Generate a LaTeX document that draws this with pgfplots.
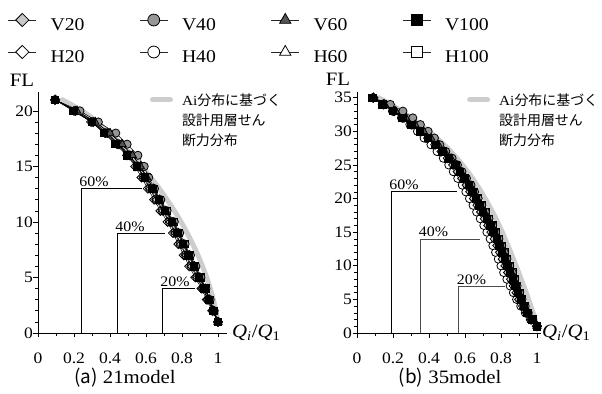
\documentclass[border=0pt]{standalone}
\usepackage{fontspec}
\setmainfont{Liberation Serif}[FakeStretch=1.1]
\newfontfamily\jp{Noto Sans CJK JP}
\usepackage{pgfplots}
\usepackage{pgfplotstable}
\pgfplotsset{compat=1.18}

\definecolor{g20}{RGB}{200,200,200}
\definecolor{g40}{RGB}{150,150,150}
\definecolor{g60}{RGB}{85,85,85}
\definecolor{aiGray}{RGB}{205,205,205}

\tikzset{
 ser/.style={black, line width=0.5pt, mark size=#1},
 sV20/.style={ser=3.2bp, mark=square*, mark options={rotate=45, fill=g20, draw=black, line width=0.8pt, solid}},
 sV40/.style={ser=4.1bp, mark=*, mark options={fill=g40, draw=black, line width=0.8pt, solid}},
 sV60/.style={ser=4.5bp, mark=triangle*, mark options={fill=g60, draw=black, line width=0.8pt, solid}},
 sV100/.style={ser=3.7bp, mark=square*, mark options={fill=black, draw=black, line width=0.8pt, solid}},
 sH20/.style={ser=3.2bp, mark=square*, mark options={rotate=45, fill=white, draw=black, line width=0.8pt, solid}},
 sH40/.style={ser=4.1bp, mark=*, mark options={fill=white, draw=black, line width=0.8pt, solid}},
 sH60/.style={ser=4.5bp, mark=triangle*, mark options={fill=white, draw=black, line width=0.8pt, solid}},
 sH100/.style={ser=3.7bp, mark=square*, mark options={fill=white, draw=black, line width=0.8pt, solid}},
 ailine/.style={color=aiGray, line width=5bp, line cap=round, mark=none},
 pct/.style={anchor=south west, inner sep=0pt, xshift=-2bp, yshift=1.5bp, font=\fontsize{14.5}{17}\selectfont},
}

\pgfplotstableread{
fl V20 V40 V60 V100 H20 H40 H60 H100 Ai
1 1.000 1.000 1.000 1.000 1.000 1.000 1.000 1.000 1.000
2 0.972 0.979 0.977 0.975 0.968 0.971 0.977 0.977 0.988
3 0.945 0.956 0.953 0.950 0.938 0.943 0.953 0.954 0.974
4 0.918 0.933 0.929 0.925 0.908 0.915 0.929 0.931 0.957
5 0.887 0.905 0.899 0.895 0.874 0.882 0.899 0.902 0.937
6 0.855 0.877 0.870 0.865 0.840 0.850 0.870 0.873 0.914
7 0.825 0.847 0.840 0.835 0.810 0.820 0.840 0.843 0.889
8 0.795 0.817 0.810 0.805 0.780 0.790 0.810 0.813 0.860
9 0.765 0.787 0.780 0.775 0.750 0.760 0.780 0.783 0.829
10 0.735 0.757 0.750 0.745 0.720 0.730 0.750 0.753 0.795
11 0.695 0.717 0.710 0.705 0.680 0.690 0.710 0.713 0.758
12 0.660 0.682 0.675 0.670 0.645 0.655 0.675 0.678 0.717
13 0.625 0.647 0.640 0.635 0.610 0.620 0.640 0.643 0.674
14 0.590 0.615 0.605 0.595 0.575 0.585 0.605 0.605 0.626
15 0.555 0.590 0.570 0.550 0.540 0.550 0.570 0.560 0.576
16 0.510 0.555 0.525 0.495 0.495 0.505 0.525 0.505 0.521
17 0.450 0.495 0.468 0.430 0.440 0.445 0.465 0.440 0.462
18 0.386 0.432 0.400 0.365 0.373 0.382 0.400 0.372 0.399
19 0.307 0.335 0.317 0.298 0.295 0.303 0.319 0.300 0.329
20 0.209 0.233 0.216 0.196 0.200 0.206 0.218 0.200 0.245
21 0.095 0.095 0.095 0.095 0.095 0.095 0.095 0.095 0.135
}\tabA

\pgfplotstableread{
fl V20 V40 V60 V100 H20 H40 H60 H100 Ai
1 1.000 1.000 1.000 1.000 1.000 1.000 1.000 1.000 1.000
2 0.969 0.974 0.972 0.971 0.966 0.964 0.970 0.974 0.990
3 0.943 0.951 0.949 0.947 0.939 0.935 0.945 0.951 0.979
4 0.922 0.934 0.931 0.928 0.916 0.910 0.925 0.934 0.966
5 0.901 0.916 0.912 0.909 0.894 0.887 0.905 0.916 0.953
6 0.886 0.903 0.898 0.894 0.877 0.869 0.890 0.903 0.940
7 0.870 0.889 0.885 0.880 0.861 0.851 0.875 0.889 0.926
8 0.855 0.876 0.871 0.865 0.844 0.833 0.860 0.876 0.912
9 0.839 0.863 0.857 0.851 0.827 0.815 0.845 0.863 0.898
10 0.824 0.848 0.842 0.836 0.812 0.800 0.830 0.848 0.884
11 0.809 0.833 0.827 0.821 0.797 0.785 0.815 0.833 0.869
12 0.794 0.818 0.812 0.806 0.782 0.770 0.800 0.818 0.854
13 0.779 0.803 0.797 0.791 0.767 0.755 0.785 0.803 0.839
14 0.764 0.788 0.782 0.776 0.752 0.740 0.770 0.788 0.823
15 0.746 0.770 0.764 0.758 0.734 0.722 0.752 0.770 0.807
16 0.729 0.753 0.747 0.741 0.717 0.705 0.735 0.753 0.790
17 0.709 0.733 0.727 0.721 0.697 0.685 0.715 0.733 0.772
18 0.689 0.713 0.707 0.701 0.677 0.665 0.695 0.713 0.753
19 0.669 0.693 0.687 0.681 0.657 0.645 0.675 0.693 0.733
20 0.649 0.673 0.667 0.661 0.637 0.625 0.655 0.670 0.712
21 0.629 0.653 0.647 0.641 0.617 0.605 0.635 0.647 0.690
22 0.609 0.633 0.627 0.621 0.597 0.585 0.615 0.624 0.667
23 0.584 0.608 0.602 0.596 0.572 0.560 0.590 0.596 0.642
24 0.559 0.583 0.577 0.571 0.547 0.535 0.565 0.568 0.615
25 0.534 0.558 0.552 0.546 0.522 0.510 0.540 0.540 0.586
26 0.504 0.528 0.522 0.512 0.492 0.480 0.510 0.507 0.555
27 0.469 0.493 0.487 0.475 0.457 0.445 0.475 0.471 0.521
28 0.434 0.460 0.452 0.437 0.423 0.411 0.440 0.434 0.484
29 0.395 0.430 0.411 0.393 0.384 0.373 0.400 0.393 0.443
30 0.355 0.395 0.370 0.350 0.346 0.336 0.360 0.350 0.400
31 0.311 0.352 0.323 0.302 0.302 0.294 0.315 0.303 0.350
32 0.261 0.310 0.272 0.252 0.254 0.247 0.265 0.253 0.300
33 0.207 0.255 0.215 0.198 0.202 0.197 0.210 0.198 0.245
34 0.148 0.185 0.154 0.140 0.145 0.141 0.150 0.140 0.190
35 0.090 0.090 0.090 0.085 0.090 0.090 0.090 0.085 0.120
}\tabB

\pgfplotsset{
 panel/.style={
  scale only axis, anchor=south west,
  axis lines=left, axis line style={-, line width=0.8pt},
  xmin=0, ymin=0,
  xtick={0,0.2,0.4,0.6,0.8,1}, xticklabels={0,0.2,0.4,0.6,0.8,1},
  minor x tick num=1, minor y tick num=4,
  tick align=outside, major tick length=4.5bp, minor tick length=3bp,
  tick style={black, line width=0.6pt},
  /pgf/number format/assume math mode=true,
  tick label style={font=\fontsize{16}{18}\selectfont},
  xticklabel style={yshift=-12bp},
  yticklabel style={xshift=3bp},
  clip=false,
  legend cell align=left,
  legend style={anchor=north west, draw=none, fill=none, inner sep=0pt, outer sep=0pt,
    column sep=9bp, nodes={inner sep=0pt, outer sep=0pt}, font=\fontsize{14}{20}\selectfont},
  legend image code/.code={\draw[##1] (0bp,9bp) -- (18bp,9bp);},
 },
 toplegend/.style={at={(0bp,0bp)}, anchor=south west, scale only axis, width=602bp, height=394bp,
  hide axis, xmin=0, xmax=1, ymin=0, ymax=1,
  legend columns=4, legend cell align=left,
  legend style={at={(0.0133,#1)}, anchor=west, draw=none, fill=none,
    inner sep=0pt, outer sep=0pt, column sep=0pt, row sep=0pt,
    nodes={inner sep=0pt, outer sep=0pt}, font=\fontsize{18}{20}\selectfont},
  legend image code/.code={
    \draw[black!85, line width=0.5pt] (0bp,0bp) -- (28bp,0bp);
    \draw[##1, /tikz/every mark/.append style={scale=1.45}] plot coordinates {(14bp,0bp)};
    \path (42bp,0bp);
  }},
}

\newcommand{\aitext}{\begin{tabular}{@{}l@{}}Ai{\jp 分布に基づく}\\{\jp 設計用層せん}\\{\jp 断力分布}\end{tabular}}
\newcommand{\lt}[1]{\makebox[89bp][l]{\rule[-10bp]{0pt}{32bp}#1}}

\begin{document}
\begin{tikzpicture}
\useasboundingbox (0,0) rectangle (602bp,394bp);

% overall legend, row 1
\begin{axis}[toplegend=0.9492]
\addlegendimage{sV20}\addlegendentry{\lt{V20}}
\addlegendimage{sV40}\addlegendentry{\lt{V40}}
\addlegendimage{sV60}\addlegendentry{\lt{V60}}
\addlegendimage{sV100}\addlegendentry{\lt{V100}}
\end{axis}
% overall legend, row 2
\begin{axis}[toplegend=0.8680]
\addlegendimage{sH20}\addlegendentry{\lt{H20}}
\addlegendimage{sH40}\addlegendentry{\lt{H40}}
\addlegendimage{sH60}\addlegendentry{\lt{H60}}
\addlegendimage{sH100}\addlegendentry{\lt{H100}}
\end{axis}

% (a) 21 model
\begin{axis}[panel, at={(38bp,61bp)}, width=189bp, height=241bp, xmax=1.05, ymax=21.7,
  ytick={0,5,10,15,20}, yticklabels={0,5,10,15,20},
  legend style={at={(0.5926,1.003)}}]
\addplot[ailine, smooth] table[x=Ai, y=fl] {\tabA};
\addlegendentry{\aitext}
\addplot[sH20, forget plot] table[x=H20, y=fl] {\tabA};
\addplot[sH40, forget plot] table[x=H40, y=fl] {\tabA};
\addplot[sH60, forget plot] table[x=H60, y=fl] {\tabA};
\addplot[sH100, forget plot] table[x=H100, y=fl] {\tabA};
\addplot[sV20, forget plot] table[x=V20, y=fl] {\tabA};
\addplot[sV40, forget plot] table[x=V40, y=fl] {\tabA};
\addplot[sV60, forget plot] table[x=V60, y=fl] {\tabA};
\addplot[sV100, forget plot] table[x=V100, y=fl] {\tabA};
\addplot[black, line width=0.7pt, mark=none, forget plot] coordinates {(0.24,0) (0.24,13) (0.58,13)};
\addplot[black, line width=0.7pt, mark=none, forget plot] coordinates {(0.44,0) (0.44,9) (0.705,9)};
\addplot[black, line width=0.7pt, mark=none, forget plot] coordinates {(0.69,0) (0.69,4) (0.87,4)};
\node[pct] at (axis cs:0.24,13) {60\%};
\node[pct] at (axis cs:0.44,9) {40\%};
\node[pct] at (axis cs:0.69,4) {20\%};
\end{axis}

% (b) 35 model
\begin{axis}[panel, at={(357bp,61bp)}, width=183.6bp, height=241bp, xmax=1.02, ymax=35.85,
  ytick={0,5,10,15,20,25,30,35}, yticklabels={0,5,10,15,20,25,30,35},
  legend style={at={(0.60,1.003)}}]
\addplot[ailine, smooth] table[x=Ai, y=fl] {\tabB};
\addlegendentry{\aitext}
\addplot[sH20, forget plot] table[x=H20, y=fl] {\tabB};
\addplot[sH40, forget plot] table[x=H40, y=fl] {\tabB};
\addplot[sH60, forget plot] table[x=H60, y=fl] {\tabB};
\addplot[sH100, forget plot] table[x=H100, y=fl] {\tabB};
\addplot[sV20, forget plot] table[x=V20, y=fl] {\tabB};
\addplot[sV40, forget plot] table[x=V40, y=fl] {\tabB};
\addplot[sV60, forget plot] table[x=V60, y=fl] {\tabB};
\addplot[sV100, forget plot] table[x=V100, y=fl] {\tabB};
\addplot[black, line width=0.7pt, mark=none, forget plot] coordinates {(0.19,0) (0.19,21) (0.554,21)};
\addplot[black!70, line width=0.7pt, mark=none, forget plot] coordinates {(0.354,0) (0.354,14) (0.683,14)};
\addplot[black!70, line width=0.7pt, mark=none, forget plot] coordinates {(0.565,0) (0.565,7) (0.822,7)};
\node[pct] at (axis cs:0.19,21) {60\%};
\node[pct] at (axis cs:0.354,14) {40\%};
\node[pct] at (axis cs:0.565,7) {20\%};
\end{axis}

% labels
\node[font=\fontsize{19}{22}\selectfont] at (22bp,314bp) {FL};
\node[font=\fontsize{19}{22}\selectfont] at (338bp,315bp) {FL};
\node[anchor=west, inner sep=0pt, font=\fontsize{19}{22}\selectfont] at (232bp,61bp) {\textit{Q}\textsubscript{\textit{i}}/\textit{Q}\textsubscript{1}};
\node[anchor=west, inner sep=0pt, font=\fontsize{19}{22}\selectfont] at (542bp,61bp) {\textit{Q}\textsubscript{\textit{i}}/\textit{Q}\textsubscript{1}};
\node[inner sep=0pt, font=\fontsize{19}{22}\selectfont] at (125bp,16bp) {{\jp (a)} 21model};
\node[inner sep=0pt, font=\fontsize{19}{22}\selectfont] at (450bp,16bp) {{\jp (b)} 35model};
\end{tikzpicture}
\end{document}
